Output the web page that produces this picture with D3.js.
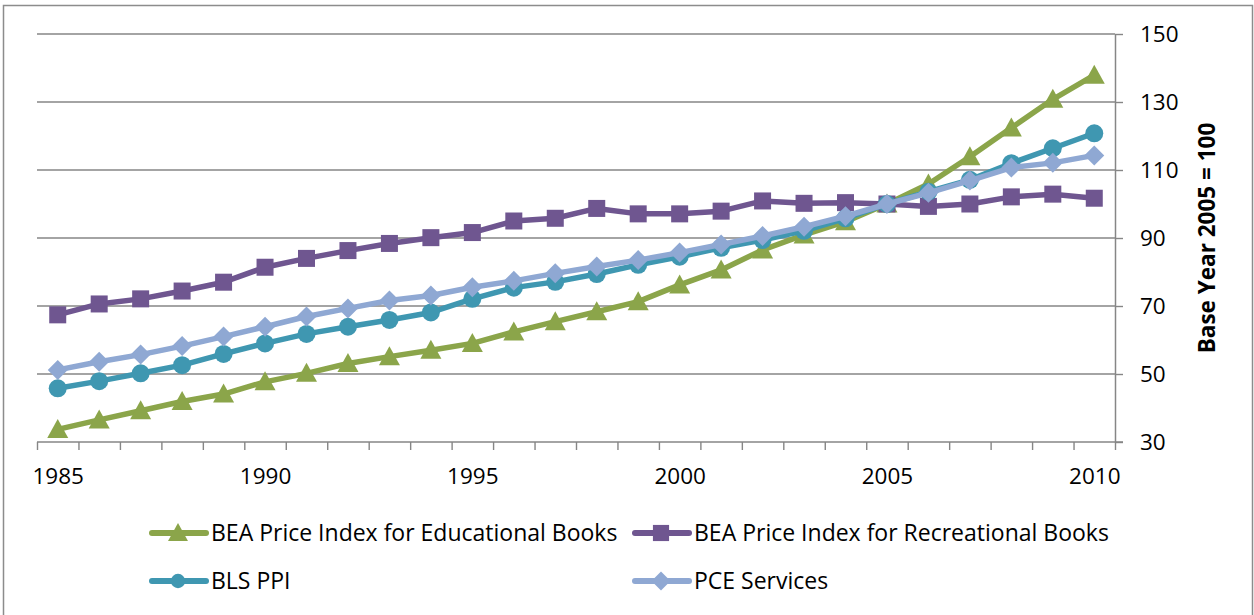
<!DOCTYPE html>
<html>
<head>
<meta charset="utf-8">
<script src="https://cdn.jsdelivr.net/npm/d3@7/dist/d3.min.js"></script>
<style>
  html, body { margin: 0; padding: 0; background: #fff; }
  svg { display: block; }
  text { font-family: "Open Sans", Lato, sans-serif; fill: #000; }
</style>
</head>
<body>
<svg id="chart" width="1254" height="615"></svg>
<script>
// Price indexes, base year 2005 = 100
const years = d3.range(1985, 2011);
const eduBooks = [33.7, 36.5, 39.2, 41.9, 44.1, 47.7, 50.2, 53.1, 55.1, 57.0, 59.0, 62.4, 65.4, 68.3, 71.3, 76.2, 80.6, 86.5, 90.9, 94.8, 100.0, 105.9, 113.9, 122.4, 130.8, 137.9];
const recBooks = [67.4, 70.6, 72.1, 74.4, 77.0, 81.4, 84.0, 86.3, 88.4, 90.1, 91.6, 95.0, 95.8, 98.7, 97.1, 97.1, 97.9, 100.9, 100.2, 100.4, 100.0, 99.3, 100.0, 102.1, 102.9, 101.7];
const blsPpi   = [45.8, 47.9, 50.2, 52.6, 55.9, 59.0, 61.8, 63.9, 65.9, 68.1, 72.1, 75.4, 77.1, 79.4, 82.1, 84.5, 87.1, 89.4, 92.1, 95.8, 100.0, 103.6, 107.1, 112.0, 116.4, 120.8];
const pceServ  = [51.2, 53.6, 55.7, 58.2, 61.0, 63.9, 66.9, 69.3, 71.6, 73.1, 75.5, 77.4, 79.6, 81.6, 83.5, 85.7, 88.1, 90.6, 93.3, 96.4, 100.0, 103.3, 106.9, 110.7, 112.1, 114.3];
const seriesNames = ["BEA Price Index for Educational Books", "BEA Price Index for Recreational Books", "BLS PPI", "PCE Services"];
const yTicks = [30, 50, 70, 90, 110, 130, 150];
const xLabels = [1985, 1990, 1995, 2000, 2005, 2010];
const yTitle = "Base Year 2005 = 100";

const series = [
  { name: seriesNames[0], values: eduBooks, color: "#8BA54A", marker: "triangle" },
  { name: seriesNames[1], values: recBooks, color: "#6F5690", marker: "square" },
  { name: seriesNames[2], values: blsPpi,   color: "#3F97B1", marker: "circle" },
  { name: seriesNames[3], values: pceServ,  color: "#8FA8D3", marker: "diamond" }
];

const svg = d3.select("#chart");
const plot = { left: 37, right: 1115, top: 34, bottom: 442 };
const axisGray = "#868686";

// chart frame
svg.append("rect")
  .attr("x", 3.5).attr("y", 5.5)
  .attr("width", 1249).attr("height", 640)
  .attr("fill", "none").attr("stroke", "#8c8c8c").attr("stroke-width", 1.5);

// category positions: each year sits in the middle of its slot
const xEdge = d3.scaleLinear().domain([years[0] - 0.5, years[years.length - 1] + 0.5]).range([plot.left, plot.right]);
const x = d => xEdge(d);
const y = d3.scaleLinear().domain([30, 150]).range([plot.bottom, plot.top]);

// horizontal gridlines
svg.append("g")
  .selectAll("line")
  .data(yTicks.filter(t => t > 30))
  .join("line")
  .attr("x1", plot.left).attr("x2", plot.right)
  .attr("y1", d => y(d)).attr("y2", d => y(d))
  .attr("stroke", axisGray).attr("stroke-width", 1.4);

// right value axis
const yAxis = svg.append("g")
  .attr("transform", `translate(${plot.right},0)`)
  .call(d3.axisRight(y).tickValues(yTicks).tickSize(8).tickPadding(17).tickSizeOuter(0));
yAxis.select(".domain").attr("stroke", axisGray).attr("stroke-width", 1.5);
yAxis.selectAll(".tick line").attr("stroke", axisGray).attr("stroke-width", 1.4);
yAxis.selectAll(".tick text").attr("font-size", 22.5).attr("font-family", "Open Sans").attr("fill", "#000");

// bottom category axis: tick marks on slot edges
const edges = d3.range(years[0] - 0.5, years[years.length - 1] + 1, 1);
const xTickAxis = svg.append("g")
  .attr("transform", `translate(0,${plot.bottom})`)
  .call(d3.axisBottom(xEdge).tickValues(edges).tickSize(8).tickFormat("").tickSizeOuter(0));
xTickAxis.select(".domain").attr("stroke", axisGray).attr("stroke-width", 1.5)
  .attr("d", `M${plot.left},0H${plot.right + 8}`);
xTickAxis.selectAll(".tick line").attr("stroke", axisGray).attr("stroke-width", 1.4);

// year labels every five years
const xLabelAxis = svg.append("g")
  .attr("transform", `translate(0,${plot.bottom})`)
  .call(d3.axisBottom(xEdge).tickValues(xLabels).tickSize(0).tickFormat(d3.format("d")));
xLabelAxis.select(".domain").remove();
xLabelAxis.selectAll(".tick text")
  .attr("y", 42).attr("dy", 0)
  .attr("font-size", 22.5).attr("font-family", "Open Sans").attr("fill", "#000");

// axis title
svg.append("text")
  .attr("transform", `translate(1215,${(plot.top + plot.bottom) / 2}) rotate(-90)`)
  .attr("text-anchor", "middle")
  .attr("font-size", 22.5).attr("font-weight", "bold")
  .text(yTitle);

// marker shapes
function drawMarker(g, type, color, cx, cy, scale = 1) {
  if (type === "triangle") {
    const w = 21 * scale, h = 19 * scale;
    g.append("path")
      .attr("d", `M${cx},${cy - h * 0.55}L${cx + w / 2},${cy + h * 0.45}L${cx - w / 2},${cy + h * 0.45}Z`)
      .attr("fill", color);
  } else if (type === "square") {
    const s = 17 * scale;
    g.append("rect").attr("x", cx - s / 2).attr("y", cy - s / 2).attr("width", s).attr("height", s).attr("fill", color);
  } else if (type === "circle") {
    g.append("circle").attr("cx", cx).attr("cy", cy).attr("r", 9 * scale).attr("fill", color);
  } else if (type === "diamond") {
    const r = 10 * scale;
    g.append("path")
      .attr("d", `M${cx},${cy - r}L${cx + r},${cy}L${cx},${cy + r}L${cx - r},${cy}Z`)
      .attr("fill", color);
  }
}

// series lines and markers
const line = d3.line().x((d, i) => x(years[i])).y(d => y(d));
series.forEach(s => {
  const g = svg.append("g");
  g.append("path")
    .attr("d", line(s.values))
    .attr("fill", "none")
    .attr("stroke", s.color)
    .attr("stroke-width", 5.5)
    .attr("stroke-linejoin", "round");
  s.values.forEach((v, i) => drawMarker(g, s.marker, s.color, x(years[i]), y(v)));
});

// legend
const legendPos = [
  { lx: 152, ty: 533 }, { lx: 635, ty: 533 },
  { lx: 152, ty: 581 }, { lx: 635, ty: 581 }
];
series.forEach((s, i) => {
  const p = legendPos[i];
  const g = svg.append("g");
  g.append("line")
    .attr("x1", p.lx).attr("x2", p.lx + 54)
    .attr("y1", p.ty).attr("y2", p.ty)
    .attr("stroke", s.color).attr("stroke-width", 6).attr("stroke-linecap", "round");
  drawMarker(g, s.marker, s.color, p.lx + 26, p.ty, s.marker === "circle" ? 0.8 : 0.95);
  g.append("text")
    .attr("x", p.lx + 59).attr("y", p.ty)
    .attr("dy", "0.36em")
    .attr("font-size", 23)
    .text(s.name);
});
</script>
</body>
</html>
